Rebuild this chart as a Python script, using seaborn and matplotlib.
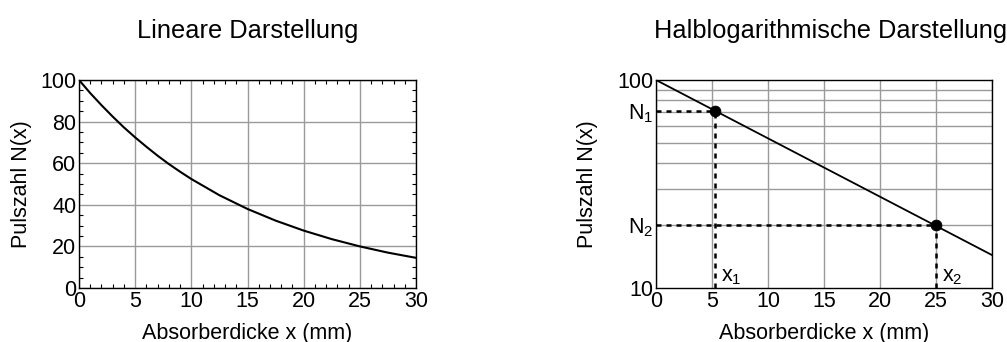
import numpy as np
import pandas as pd
import matplotlib
matplotlib.use("Agg")
import matplotlib.pyplot as plt
import seaborn as sns

# values
dicke = [0, 1, 2, 3, 4, 5, 6, 7, 8, 9, 10, 12.5, 15, 17.5, 20, 22.5, 25, 27.5, 30]
pulse = [100, 93.7, 87.9, 82.4, 77.2, 72.4, 67.9, 63.6, 59.6, 55.9, 52.4,
         44.6, 38.0, 32.4, 27.6, 23.5, 20.0, 17.0, 14.5]

log_x = [0, 30]
log_n = [100, 14.4]

punkt_x = [5.3, 25.0]
punkt_n = [71.0, 20.1]

log_grid = [20, 30, 40, 50, 60, 70, 80, 90]

sns.set_style("ticks")
plt.rcParams["font.family"] = ["Liberation Sans", "DejaVu Sans"]
plt.rcParams["mathtext.fontset"] = "custom"
plt.rcParams["mathtext.rm"] = "Liberation Sans"
plt.rcParams["mathtext.it"] = "Liberation Sans"
plt.rcParams["text.color"] = "black"
plt.rcParams["axes.labelcolor"] = "black"
plt.rcParams["xtick.color"] = "black"
plt.rcParams["ytick.color"] = "black"

df_lin = pd.DataFrame({"x": dicke, "N": pulse})
df_log = pd.DataFrame({"x": log_x, "N": log_n})
df_pkt = pd.DataFrame({"x": punkt_x, "N": punkt_n})

fig = plt.figure(figsize=(10.07, 3.42), dpi=100)
W, H = 1007, 342
ax1 = fig.add_axes([79 / W, 1 - 288 / H, (416 - 79) / W, 208 / H])
ax2 = fig.add_axes([656 / W, 1 - 288 / H, (992 - 656) / W, 208 / H])

fs = 15.5
fs_title = 18.3
grid_kw = dict(color="#9a9a9a", linewidth=1.0)

# linear plot
sns.lineplot(data=df_lin, x="x", y="N", ax=ax1, color="black", linewidth=1.5)
ax1.set_xlim(0, 30)
ax1.set_ylim(0, 100)
ax1.set_xticks([0, 5, 10, 15, 20, 25, 30])
ax1.set_yticks([0, 20, 40, 60, 80, 100])
ax1.set_xticks(np.arange(0, 31, 1), minor=True)
ax1.set_yticks(np.arange(0, 101, 5), minor=True)
ax1.grid(True, which="major", **grid_kw)
ax1.tick_params(which="both", direction="in", top=True, right=True, labelsize=fs, pad=2)
ax1.tick_params(which="major", length=0)
ax1.tick_params(which="minor", length=3, width=0.8)
ax1.set_xlabel("Absorberdicke x (mm)", fontsize=fs, labelpad=8)
ax1.set_ylabel("Pulszahl N(x)", fontsize=fs, labelpad=6)
ax1.set_title("Lineare Darstellung", fontsize=fs_title, pad=30)

# semi-log plot
sns.lineplot(data=df_log, x="x", y="N", ax=ax2, color="black", linewidth=1.3)
ax2.set_yscale("log")
ax2.set_xlim(0, 30)
ax2.set_ylim(10, 100)
ax2.set_xticks([0, 5, 10, 15, 20, 25, 30])
ax2.yaxis.set_minor_locator(matplotlib.ticker.NullLocator())
ax2.yaxis.set_minor_formatter(matplotlib.ticker.NullFormatter())
ax2.set_yticks([10, punkt_n[1], punkt_n[0], 100],
               labels=["10", "N$_2$", "N$_1$", "100"])
ax2.grid(True, which="major", axis="x", **grid_kw)
for yv in log_grid:
    ax2.axhline(yv, **grid_kw, zorder=0.5)
ax2.tick_params(which="both", length=0, labelsize=fs, pad=2)

for px, pn in zip(punkt_x, punkt_n):
    ax2.plot([0, px], [pn, pn], color="black", linewidth=1.8, linestyle=(0, (2, 2)))
    ax2.plot([px, px], [10, pn], color="black", linewidth=1.8, linestyle=(0, (2, 2)))
sns.scatterplot(data=df_pkt, x="x", y="N", ax=ax2, color="black", s=60, zorder=5, edgecolor="black")
ax2.text(punkt_x[0] + 0.5, 11.3, "x$_1$", fontsize=fs, ha="left", va="center")
ax2.text(punkt_x[1] + 0.5, 11.3, "x$_2$", fontsize=fs, ha="left", va="center")

ax2.set_xlabel("Absorberdicke x (mm)", fontsize=fs, labelpad=8)
ax2.set_ylabel("Pulszahl N(x)", fontsize=fs, labelpad=14)
ax2.set_title("Halblogarithmische Darstellung", fontsize=fs_title, pad=30, x=0.52)

for ax in (ax1, ax2):
    for s in ax.spines.values():
        s.set_color("black")
        s.set_linewidth(1.0)

fig.savefig("out.png", dpi=100)
